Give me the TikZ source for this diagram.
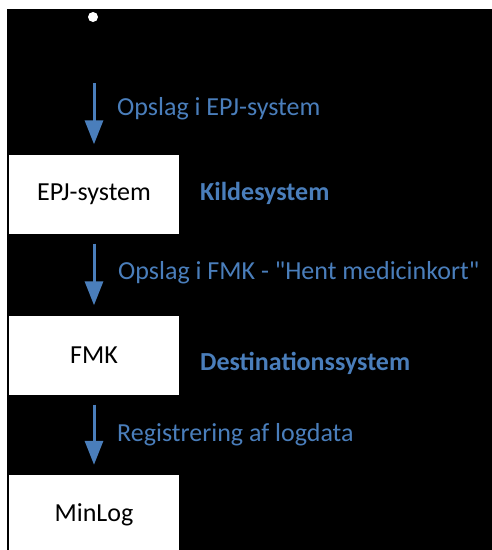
\documentclass[tikz,border=0pt]{standalone}
\usepackage{fontspec}
\setmainfont{Carlito}[Ligatures=TeXOff]
\usetikzlibrary{arrows.meta}
\definecolor{fmkblue}{HTML}{4A7EBB}
\tikzset{
  sysbox/.style={fill=white,minimum width=170pt,minimum height=79pt,inner sep=0pt,
    text=black,font=\fontsize{26}{30}\selectfont},
  steplabel/.style={anchor=base west,inner sep=0pt,text=fmkblue,font=\fontsize{26}{30}\selectfont},
  rolelabel/.style={steplabel,font=\fontsize{26}{30}\selectfont\bfseries},
  flow/.style={draw=fmkblue,line width=3pt,-{Triangle[width=18pt,length=24pt]},
    shorten <=10pt,shorten >=10pt}
}
\begin{document}
\begin{tikzpicture}[x=1pt,y=-1pt]
\useasboundingbox[fill=white] (0,0) rectangle (492,550);
\fill[black] (7,9) rectangle (492,550);
\fill[white] (93,17) circle (5pt);
\coordinate (start) at (94,73);
\node[sysbox] (EPJ) at (94,194) {EPJ-system};
\node[sysbox] (FMK) at (94,355) {FMK};
\node[sysbox,minimum height=80pt] (MinLog) at (94,515) {MinLog};
\draw[flow] (start) -- (EPJ.north);
\draw[flow] (EPJ.south) -- (FMK.north);
\draw[flow] (FMK.south) -- (MinLog.north);
\node[steplabel] (opslagEPJ) at (117,115) {Opslag i EPJ-system};
\node[steplabel] (opslagFMK) at (118,279) {Opslag i FMK - "Hent medicinkort"};
\node[steplabel] (logdata) at (117,441) {Registrering af logdata};
\node[rolelabel] (kilde) at (200,200) {Kildesystem};
\node[rolelabel] (dest) at (200,370) {Destinationssystem};
\end{tikzpicture}
\end{document}
